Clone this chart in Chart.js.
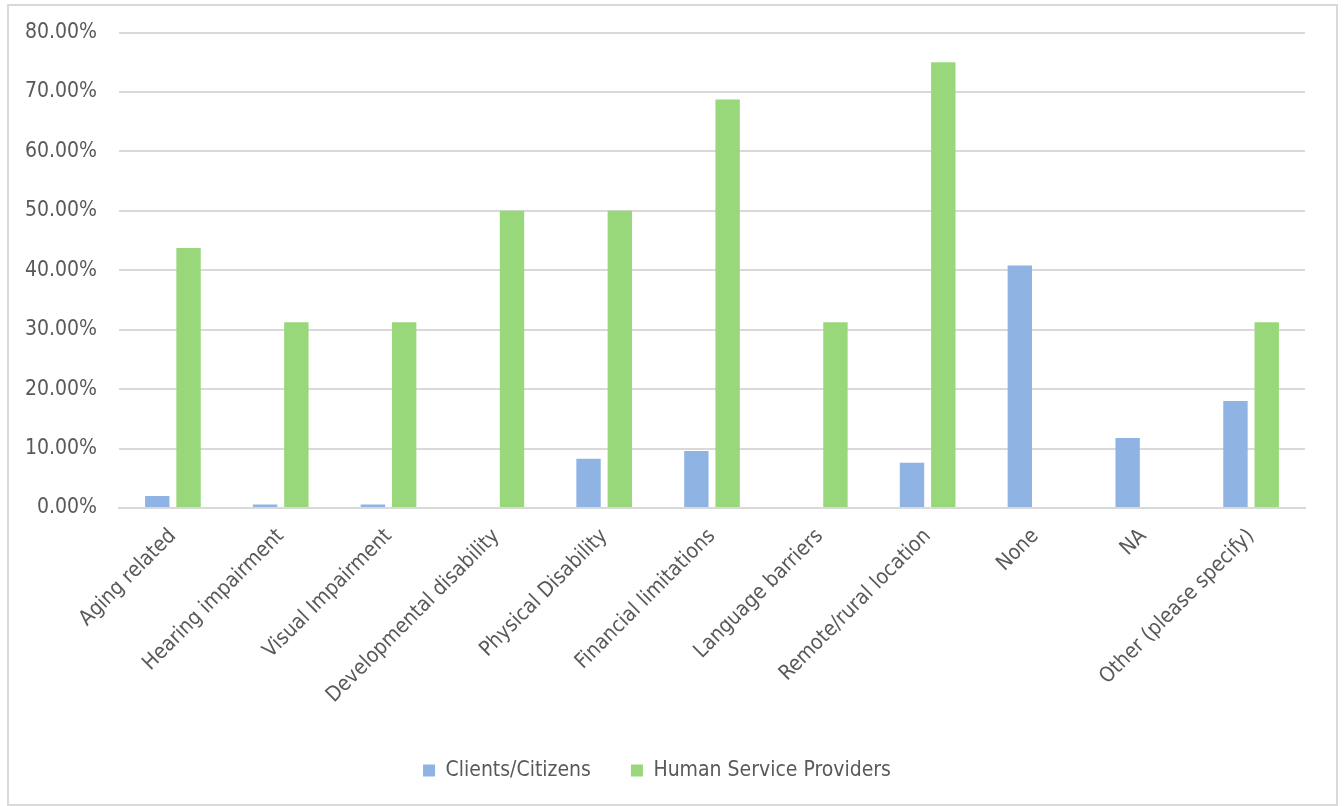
<!DOCTYPE html>
<html>
<head>
<meta charset="utf-8">
<script src="https://cdn.jsdelivr.net/npm/chart.js@4"></script>
<style>
  body { margin: 0; background: #fff; }
  #box {
    position: absolute; left: 7px; top: 4px;
    width: 1327px; height: 798px;
    border: 2px solid #d9d9d9; background: #fff;
    overflow: hidden;
  }
  #inner { position: absolute; left: 0; top: -8px; width: 1327px; height: 806px; }
</style>
</head>
<body>
<div id="box"><div id="inner"><canvas id="barChart"></canvas></div></div>
<script>
//Chart data
var categories = ["Aging related", "Hearing impairment", "Visual Impairment", "Developmental disability",
  "Physical Disability", "Financial limitations", "Language barriers", "Remote/rural location",
  "None", "NA", "Other (please specify)"];
var clients = [2.0, 0.6, 0.6, 0, 8.3, 9.6, 0, 7.6, 40.8, 11.8, 18.0];
var providers = [43.75, 31.25, 31.25, 50, 50, 68.75, 31.25, 75, 0, 0, 31.25];
var yTicks = [0, 10, 20, 30, 40, 50, 60, 70, 80];

var textFont = { family: "'DejaVu Sans Condensed', 'DejaVu Sans', sans-serif", size: 21 };

var ctx = document.getElementById("barChart").getContext("2d");
var chart = new Chart(ctx, {
  type: "bar",
  data: {
    labels: categories,
    datasets: [
      {
        label: "Clients/Citizens",
        data: clients,
        backgroundColor: "#8fb4e3",
        categoryPercentage: 0.58,
        barPercentage: 0.78,
      },
      {
        label: "Human Service Providers",
        data: providers,
        backgroundColor: "#98d87b",
        categoryPercentage: 0.58,
        barPercentage: 0.78,
      },
    ],
  },
  options: {
    responsive: true,
    maintainAspectRatio: false,
    animation: false,
    layout: { padding: { left: 0, right: 31, top: 0, bottom: 13 } },
    plugins: {
      tooltip: { enabled: false },
      legend: {
        position: "bottom",
        labels: {
          boxWidth: 12,
          boxHeight: 12,
          padding: 40,
          color: "#595959",
          font: textFont,
        },
      },
    },
    scales: {
      x: {
        grid: { display: false },
        border: { color: "#d9d9d9", width: 2 },
        afterFit: function(axis) {
          // extra room between the labels and the legend
          axis.height += 4;
        },
        ticks: {
          color: "#595959",
          font: textFont,
          padding: 8,
          minRotation: 45,
          maxRotation: 45,
        },
      },
      y: {
        min: 0,
        max: 80,
        afterBuildTicks: function(axis) {
          axis.ticks = yTicks.map(function(v) { return { value: v }; });
        },
        afterFit: function(axis) {
          // fixed width so the plot starts where the reference does
          axis.width = 110;
        },
        grid: { color: "#d9d9d9", lineWidth: 2, drawTicks: false },
        border: { display: false },
        ticks: {
          color: "#595959",
          font: textFont,
          padding: 22,
          callback: function(v) { return v.toFixed(2) + "%"; },
        },
      },
    },
  },
});
</script>
</body>
</html>
